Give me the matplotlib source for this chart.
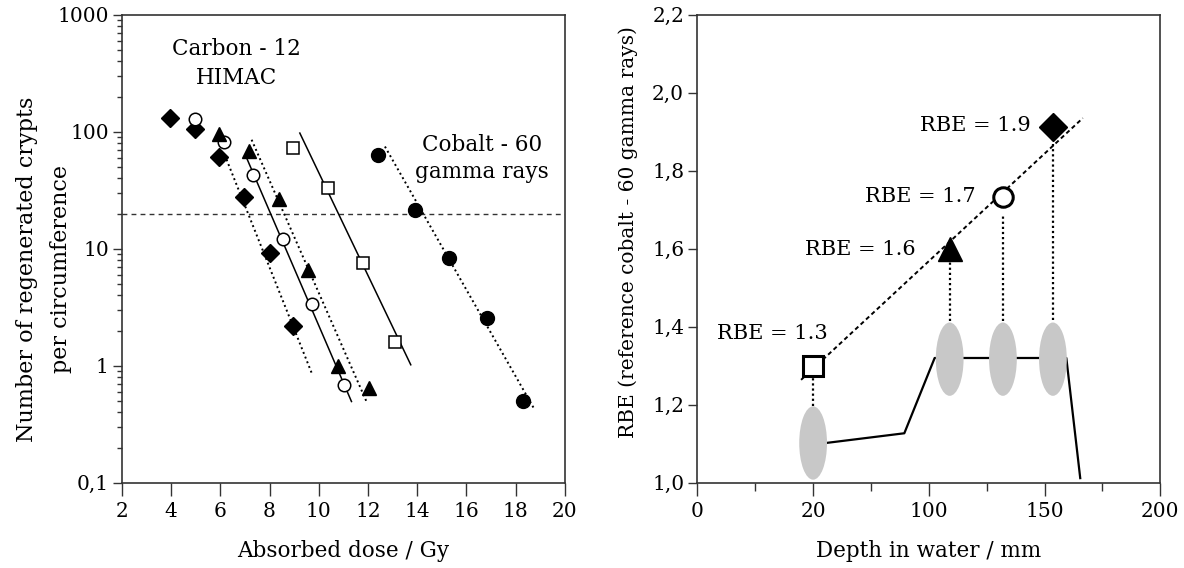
import matplotlib
matplotlib.use("Agg")
import matplotlib.pyplot as plt
from matplotlib.patches import Ellipse
from matplotlib.ticker import FixedLocator, FixedFormatter, LogLocator, NullFormatter

plt.rcParams['font.family'] = ['DejaVu Serif']
plt.rcParams['font.size'] = 15.5

# ---------------- left panel data ----------------
diamond_x = [3.95, 4.97, 5.95, 6.97, 8.01, 8.96]
diamond_y = [132, 105, 61, 27.7, 9.2, 2.17]
diamond_fit_x = [6.25, 9.71]
diamond_fit_y = [58, 0.87]

ocircle_x = [4.97, 6.14, 7.31, 8.53, 9.73, 11.03]
ocircle_y = [128, 81.7, 42.4, 12.2, 3.37, 0.69]
ocircle_fit_x = [7.07, 11.33]
ocircle_fit_y = [59.6, 0.495]

tri_x = [5.95, 7.17, 8.39, 9.57, 10.79, 12.05]
tri_y = [95, 68, 26.6, 6.6, 0.99, 0.64]
tri_fit_x = [7.27, 11.94]
tri_fit_y = [85.5, 0.495]

osquare_x = [8.96, 10.38, 11.80, 13.09]
osquare_y = [72.6, 33, 7.55, 1.61]
osquare_fit_x = [9.23, 13.74]
osquare_fit_y = [97.5, 1.02]

fcircle_x = [12.42, 13.91, 15.30, 16.82, 18.31]
fcircle_y = [63.5, 21.5, 8.3, 2.56, 0.505]
fcircle_fit_x = [12.69, 18.78]
fcircle_fit_y = [74.8, 0.42]

threshold = 20
left_xticks = [2, 4, 6, 8, 10, 12, 14, 16, 18, 20]
left_yticks = [0.1, 1, 10, 100, 1000]
left_yticklabels = ['0,1', '1', '10', '100', '1000']

# ---------------- right panel data ----------------
rbe_depth = [50, 109, 132, 153.6]
rbe_value = [1.3, 1.6, 1.733, 1.912]
rbe_labels = ['RBE = 1.3', 'RBE = 1.6', 'RBE = 1.7', 'RBE = 1.9']
rbe_fit_x = [44.8, 166.5]
rbe_fit_y = [1.264, 1.935]
drop_top = [1.275, 1.572, 1.69, 1.88]
drop_bottom = [1.196, 1.414, 1.414, 1.418]
ellipse_y = [1.102, 1.317, 1.317, 1.317]
profile_x = [50, 89.4, 102.5, 159.4, 165.4]
profile_y = [1.098, 1.127, 1.320, 1.320, 1.012]
right_xticks = [0, 50, 100, 150, 200]
right_xticklabels = ['0', '20', '100', '150', '200']
right_xminor = [25, 75, 125, 175]
right_yticks = [1.0, 1.2, 1.4, 1.6, 1.8, 2.0, 2.2]
right_yticklabels = ['1,0', '1,2', '1,4', '1,6', '1,8', '2,0', '2,2']

fig = plt.figure(figsize=(11.84, 5.68), dpi=100)
ax1 = fig.add_axes([0.103, 0.150, 0.374, 0.824])
ax2 = fig.add_axes([0.589, 0.150, 0.391, 0.824])

dot = (0, (1, 1.6))
# ---- left ----
ax1.set_yscale('log')
ax1.axhline(threshold, color='#333333', lw=1, ls=(0, (3.5, 3)), zorder=1)
ax1.plot(diamond_fit_x, diamond_fit_y, color='black', lw=1.4, ls=dot, zorder=2)
ax1.plot(ocircle_fit_x, ocircle_fit_y, color='black', lw=1.1, zorder=2)
ax1.plot(tri_fit_x, tri_fit_y, color='black', lw=1.4, ls=dot, zorder=2)
ax1.plot(osquare_fit_x, osquare_fit_y, color='black', lw=1.1, zorder=2)
ax1.plot(fcircle_fit_x, fcircle_fit_y, color='black', lw=1.4, ls=dot, zorder=2)

ax1.plot(diamond_x, diamond_y, 'D', color='black', ms=9, ls='none', zorder=3)
ax1.plot(ocircle_x, ocircle_y, 'o', mfc='white', mec='black', mew=1.1, ms=9, ls='none', zorder=3)
ax1.plot(tri_x, tri_y, '^', color='black', ms=10, ls='none', zorder=3)
ax1.plot(osquare_x, osquare_y, 's', mfc='white', mec='black', mew=1.1, ms=9, ls='none', zorder=3)
ax1.plot(fcircle_x, fcircle_y, 'o', color='black', ms=10, ls='none', zorder=3)

ax1.text(6.67, 385, 'Carbon - 12\nHIMAC', ha='center', va='center', linespacing=1.4)
ax1.text(16.62, 58.7, 'Cobalt - 60\ngamma rays', ha='center', va='center', linespacing=1.3)

ax1.set_xlim(2, 20)
ax1.set_ylim(0.1, 1000)
ax1.xaxis.set_major_locator(FixedLocator(left_xticks))
ax1.yaxis.set_major_locator(FixedLocator(left_yticks))
ax1.yaxis.set_major_formatter(FixedFormatter(left_yticklabels))
ax1.yaxis.set_minor_locator(LogLocator(base=10, subs=range(2, 10)))
ax1.yaxis.set_minor_formatter(NullFormatter())
ax1.tick_params(which='major', direction='out', width=1, color='#333333', labelsize=14.5)
ax1.tick_params(axis='x', which='major', length=9.5, pad=4)
ax1.tick_params(axis='y', which='major', length=6.5, pad=3)
ax1.tick_params(which='minor', direction='out', length=3.5, width=1, color='#333333')
ax1.set_xlabel('Absorbed dose / Gy', labelpad=14)
ax1.set_ylabel('Number of regenerated crypts\nper circumference', fontsize=16,
               linespacing=1.7, va='center')
ax1.yaxis.set_label_coords(-0.176, 0.457)

# ---- right ----
ax2.plot(profile_x, profile_y, color='black', lw=1.6, zorder=1)
for x, y in zip(rbe_depth, ellipse_y):
    ax2.add_patch(Ellipse((x, y), 12, 0.188, facecolor='#c8c8c8', edgecolor='none', zorder=2))
for x, t, b in zip(rbe_depth, drop_top, drop_bottom):
    ax2.plot([x, x], [b, t], color='black', lw=1.6, ls=(0, (1, 1.3)), zorder=2)
ax2.plot(rbe_fit_x, rbe_fit_y, color='black', lw=1.4, ls=(0, (2.2, 1.6)), zorder=2)

ax2.plot(rbe_depth[0], rbe_value[0], 's', mfc='white', mec='black', mew=2.2, ms=15, zorder=4)
ax2.plot(rbe_depth[1], rbe_value[1], '^', color='black', ms=17, zorder=4)
ax2.plot(rbe_depth[2], rbe_value[2], 'o', mfc='white', mec='black', mew=2.2, ms=14, zorder=4)
ax2.plot(rbe_depth[3], rbe_value[3], 'D', color='black', ms=14, zorder=4)

ax2.text(32.2, 1.384, rbe_labels[0], ha='center', va='center', fontsize=15)
ax2.text(94.2, 1.599, rbe_labels[1], ha='right', va='center', fontsize=15)
ax2.text(120.1, 1.733, rbe_labels[2], ha='right', va='center', fontsize=15)
ax2.text(144.1, 1.915, rbe_labels[3], ha='right', va='center', fontsize=15)

ax2.set_xlim(0, 200)
ax2.set_ylim(1.0, 2.2)
ax2.xaxis.set_major_locator(FixedLocator(right_xticks))
ax2.xaxis.set_major_formatter(FixedFormatter(right_xticklabels))
ax2.xaxis.set_minor_locator(FixedLocator(right_xminor))
ax2.yaxis.set_major_locator(FixedLocator(right_yticks))
ax2.yaxis.set_major_formatter(FixedFormatter(right_yticklabels))
ax2.tick_params(which='major', direction='out', width=1, color='#333333', labelsize=14.5)
ax2.tick_params(axis='x', which='major', length=9.5, pad=4)
ax2.tick_params(axis='y', which='major', length=6.5, pad=3)
ax2.tick_params(which='minor', direction='out', length=6, width=1, color='#333333')
ax2.set_xlabel('Depth in water / mm', labelpad=14)
ax2.set_ylabel('RBE (reference cobalt - 60 gamma rays)', fontsize=14.5, va='center')
ax2.yaxis.set_label_coords(-0.149, 0.536)

for ax in (ax1, ax2):
    for s in ax.spines.values():
        s.set_color('#333333')
        s.set_linewidth(1.2)

fig.savefig('out.png', dpi=100)
